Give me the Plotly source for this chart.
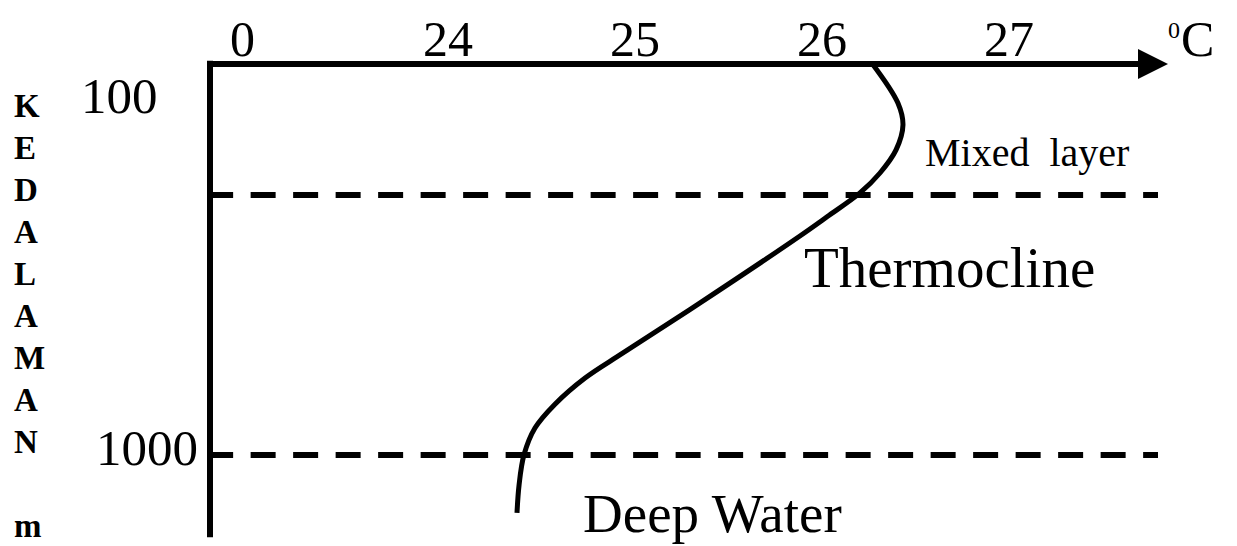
import plotly.graph_objects as go

W, H = 1237, 546

# ---------------- data ----------------
tick_labels = ["0", "24", "25", "26", "27"]
tick_values = [22.9, 24, 25, 26, 27]          # "0" marks the broken axis origin
unit_label = "C"
unit_sup = "0"
depth_labels = ["100", "1000"]
depth_values = [100, 1000]
mixed_layer_depth = 335
deep_water_depth = 1000
axis_title_letters = list("KEDALAMAN m")

profile_temp = [26.27, 26.406, 26.433, 26.396, 26.31, 26.203, 26.027, 25.882,
                25.348, 24.936, 24.733, 24.572, 24.465, 24.406, 24.38, 24.369]
profile_depth = [0, 100, 156, 220, 279, 330, 391, 440,
                 611, 739, 803, 870, 931, 1000, 1077, 1148]

zone_labels = ["Mixed  layer", "Thermocline", "Deep Water"]

# ---------------- scales ----------------
PX_PER_DEG = 187.0
PX_24 = 448.0
DEPTH_PER_PX = 900.0 / 352.0
PY_100 = 103.0
x_range = [24 - PX_24 / PX_PER_DEG, 24 + (W - PX_24) / PX_PER_DEG]
y_range = [100 + (H - PY_100) * DEPTH_PER_PX, 100 - PY_100 * DEPTH_PER_PX]

def X(px):
    return px / W

def Y(py):
    return 1 - py / H

def xdata(px):
    return 24 + (px - PX_24) / PX_PER_DEG

x_origin = xdata(210)
x_end = xdata(1158)
x_arrow_tip = xdata(1168)

FONT = "Liberation Serif, Times New Roman, serif"

fig = go.Figure()
fig.add_trace(go.Scatter(
    x=profile_temp, y=profile_depth, mode="lines",
    line=dict(color="black", width=5, shape="spline", smoothing=1.0),
    hoverinfo="skip", showlegend=False))

shapes = []
# vertical axis
shapes.append(dict(type="line", xref="x", yref="y", x0=x_origin, x1=x_origin,
                   y0=-8, y1=1210, line=dict(color="black", width=6)))
# top axis
shapes.append(dict(type="line", xref="x", yref="y", x0=x_origin - 0.016, x1=x_arrow_tip - 0.1,
                   y0=0, y1=0, line=dict(color="black", width=6)))
# arrow head
shapes.append(dict(type="path", xref="x", yref="y", xsizemode="pixel", ysizemode="pixel",
                   xanchor=x_arrow_tip, yanchor=0,
                   path="M 0 0 L -30 15 L -30 -15 Z",
                   fillcolor="black", line=dict(color="black", width=0)))
# dashed boundaries
for d in [mixed_layer_depth, deep_water_depth]:
    shapes.append(dict(type="line", xref="x", yref="y", x0=x_origin - 0.01, x1=x_end,
                       y0=d, y1=d, line=dict(color="black", width=6, dash="25px,17.5px")))

ann = []
for t, v in zip(tick_labels, tick_values):
    ann.append(dict(x=v, xref="x", y=Y(39), yref="paper", text=t, showarrow=False,
                    xanchor="center", yanchor="middle",
                    font=dict(family=FONT, size=50, color="black")))
ann.append(dict(x=X(1179), xref="paper", y=Y(39), yref="paper", text=unit_label,
                showarrow=False, xanchor="left", yanchor="middle",
                font=dict(family=FONT, size=50, color="black")))
ann.append(dict(x=X(1174), xref="paper", y=Y(30), yref="paper", text=unit_sup,
                showarrow=False, xanchor="center", yanchor="middle",
                font=dict(family=FONT, size=24, color="black")))
depth_label_right = [160, 200]
for t, v, r in zip(depth_labels, depth_values, depth_label_right):
    ann.append(dict(x=X(r), xref="paper", y=v, yref="y", text=t, showarrow=False,
                    xanchor="right", yanchor="middle", yshift=7,
                    font=dict(family=FONT, size=51, color="black")))
for i, ch in enumerate(axis_title_letters):
    if ch.strip() == "":
        continue
    ann.append(dict(x=X(12), xref="paper", y=Y(106 + 42 * i), yref="paper",
                    text="<b>%s</b>" % ch, showarrow=False, xanchor="left", yanchor="middle",
                    font=dict(family=FONT, size=33, color="black")))
zone_pos = [(1027, 152, 40), (950, 267, 57), (712, 513, 55)]
for t, (cx, cy, fs) in zip(zone_labels, zone_pos):
    ann.append(dict(x=X(cx), xref="paper", y=Y(cy), yref="paper", text=t, showarrow=False,
                    xanchor="center", yanchor="middle",
                    font=dict(family=FONT, size=fs, color="black")))

fig.update_layout(
    width=W, height=H, margin=dict(l=0, r=0, t=0, b=0, pad=0),
    paper_bgcolor="white", plot_bgcolor="white",
    xaxis=dict(range=x_range, visible=False, fixedrange=True),
    yaxis=dict(range=y_range, visible=False, fixedrange=True),
    shapes=shapes, annotations=ann, showlegend=False)

fig.write_html("out.html", config={"displayModeBar": False},
               post_script="document.body.style.margin='0px';document.body.style.overflow='hidden';")
